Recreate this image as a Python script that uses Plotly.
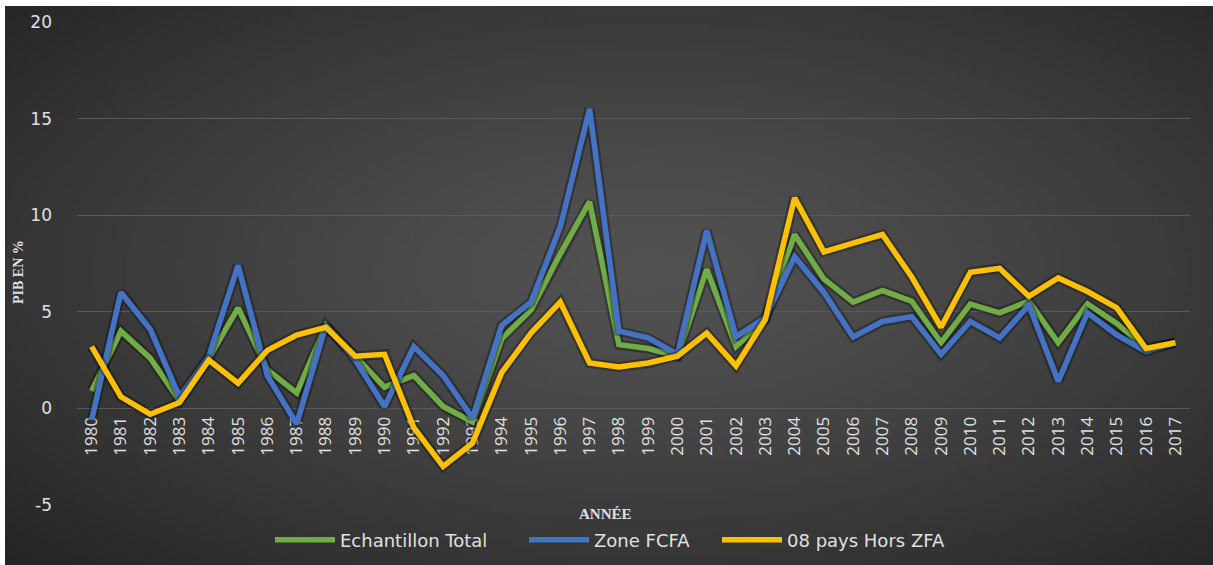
import base64, struct, zlib
import plotly.graph_objects as go

# ---------------- data ----------------
years = [str(y) for y in range(1980, 2018)]
echantillon_total = [0.9, 4.0, 2.6, 0.4, 2.6, 5.2, 2.0, 0.8, 4.3, 2.7, 1.1, 1.7, 0.1, -0.7,
                     3.6, 5.1, 8.0, 10.7, 3.3, 3.1, 2.7, 7.2, 3.2, 4.6, 9.0, 6.7, 5.5, 6.1,
                     5.55, 3.4, 5.4, 4.95, 5.55, 3.4, 5.4, 4.4, 3.1, 3.4]
zone_fcfa = [-0.6, 6.0, 4.1, 0.6, 2.7, 7.4, 1.7, -0.8, 4.3, 2.5, 0.1, 3.2, 1.7, -0.5,
             4.3, 5.5, 9.4, 15.5, 4.0, 3.65, 2.8, 9.2, 3.7, 4.7, 7.85, 6.0, 3.7, 4.5,
             4.75, 2.8, 4.5, 3.65, 5.35, 1.4, 4.95, 3.8, 2.95, 3.4]
hors_zfa = [3.2, 0.6, -0.3, 0.3, 2.5, 1.3, 3.0, 3.8, 4.2, 2.7, 2.8, -1.0, -3.0, -1.8,
            1.85, 3.9, 5.5, 2.35, 2.15, 2.35, 2.7, 3.9, 2.2, 4.6, 10.9, 8.1, 8.55, 9.0,
            6.8, 4.2, 7.05, 7.25, 5.8, 6.75, 6.05, 5.2, 3.1, 3.4]
series_names = ["Echantillon Total", "Zone FCFA", "08 pays Hors ZFA"]
y_ticks = [-5, 0, 5, 10, 15, 20]
y_ticktext = ["-5", "0", "5", "10", "15", "20"]

# ---------------- styling / geometry ----------------
W, H = 1213, 565
ML, MR, MT, MB = 77, 23, 22, 60
PW, PH = W - ML - MR, H - MT - MB
YMIN, YMAX = -5, 20
colors = ["#70AD47", "#4472C4", "#FFC000"]
legend_px = [270, 524, 717]   # left edge of each legend entry (pixels)
txt_col = "#e0e0e0"


def px_x(px):
    return (px - ML) / PW


def px_y(py):
    return (H - MB - py) / PH


def radial_png(w=240, h=112, cx=0.52, cy=0.45, c_in=82, c_out=34):
    rows = b""
    for j in range(h):
        row = bytearray([0])
        for i in range(w):
            dx = (i / (w - 1) - cx) / 0.75
            dy = (j / (h - 1) - cy) / 0.75
            d = min(1.0, (dx * dx + dy * dy) ** 0.5)
            v = int(c_in + (c_out - c_in) * d ** 1.3)
            row.append(v)
        rows += bytes(row)

    def chunk(t, data):
        c = struct.pack(">I", len(data)) + t + data
        return c + struct.pack(">I", zlib.crc32(t + data) & 0xffffffff)

    png = b"\x89PNG\r\n\x1a\n"
    png += chunk(b"IHDR", struct.pack(">IIBBBBB", w, h, 8, 0, 0, 0, 0))
    png += chunk(b"IDAT", zlib.compress(rows, 9))
    png += chunk(b"IEND", b"")
    return "data:image/png;base64," + base64.b64encode(png).decode()


fig = go.Figure()
legend_ids = ["legend", "legend2", "legend3"]
for name, vals, col, lid in zip(series_names, [echantillon_total, zone_fcfa, hors_zfa],
                                colors, legend_ids):
    fig.add_trace(go.Scatter(x=years, y=vals, mode="lines", name=name,
                             line=dict(color="rgba(0,0,0,0.30)", width=10),
                             showlegend=False, hoverinfo="skip"))
    fig.add_trace(go.Scatter(x=years, y=vals, mode="lines", name=name, legend=lid,
                             line=dict(color=col, width=5.5)))

legend_common = dict(orientation="h", xanchor="left", yanchor="middle",
                     y=px_y(540), bgcolor="rgba(0,0,0,0)", itemwidth=60,
                     font=dict(size=18, color=txt_col, family="DejaVu Sans, sans-serif"))

fig.update_layout(
    width=W, height=H,
    margin=dict(l=ML, r=MR, t=MT, b=MB, pad=0, autoexpand=False),
    paper_bgcolor="white",
    plot_bgcolor="rgba(0,0,0,0)",
    font=dict(family="DejaVu Sans, sans-serif", color=txt_col, size=17),
    images=[dict(source=radial_png(), xref="paper", yref="paper",
                 x=px_x(5), y=px_y(6), sizex=(W + 30 - 5) / PW, sizey=(H + 30 - 6) / PH,
                 xanchor="left", yanchor="top", sizing="stretch", layer="below")],
    xaxis=dict(type="category", range=[-0.5, len(years) - 0.5],
               anchor="free", position=(0 - YMIN) / (YMAX - YMIN),
               showgrid=False, zeroline=False, showline=False, ticks="",
               tickangle=-90, ticklabelstandoff=4,
               tickfont=dict(size=17, color=txt_col,
                             family="Liberation Sans Narrow, Open Sans, sans-serif"),
               layer="below traces"),
    yaxis=dict(range=[YMIN, YMAX], tickvals=y_ticks, ticktext=y_ticktext, showgrid=True,
               gridcolor="#5a5a5a", gridwidth=1, zeroline=False, showline=False,
               ticks="", ticklabelstandoff=24,
               tickfont=dict(size=17, color=txt_col, family="DejaVu Sans, sans-serif")),
    legend=dict(legend_common, x=px_x(legend_px[0])),
    legend2=dict(legend_common, x=px_x(legend_px[1])),
    legend3=dict(legend_common, x=px_x(legend_px[2])),
    annotations=[
        dict(text="<b>ANNÉE</b>", xref="paper", yref="paper", x=px_x(605), y=px_y(514),
             xanchor="center", yanchor="middle", showarrow=False,
             font=dict(family="Liberation Serif, serif", size=15, color=txt_col)),
        dict(text="<b>PIB EN %</b>", xref="paper", yref="paper", x=px_x(18), y=px_y(272),
             xanchor="center", yanchor="middle", textangle=-90, showarrow=False,
             font=dict(family="Liberation Serif, serif", size=14, color=txt_col)),
    ],
)

fig.write_html("out.html", config={"displayModeBar": False},
               post_script="document.body.style.margin='0';"
                           "document.body.style.background='#262626';"
                           "document.documentElement.style.background='#262626';")
